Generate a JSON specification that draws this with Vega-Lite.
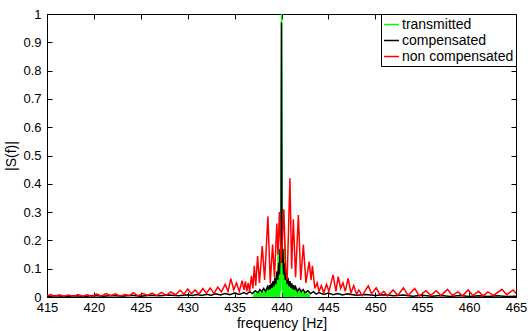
{
"$schema": "https://vega.github.io/schema/vega-lite/v6.json",
"width": 469, "height": 283,
"autosize": {"type": "none"},
"padding": {"left": 47, "top": 14, "right": 12, "bottom": 34},
"background": "white",
"config": {
 "view": {"stroke": "black", "strokeWidth": 1},
 "font": "Liberation Sans",
 "axis": {"domainColor": "black", "tickColor": "black", "labelColor": "black", "titleColor": "black", "labelFont": "Liberation Sans", "titleFont": "Liberation Sans", "labelFontSize": 13, "titleFontSize": 14, "titleFontWeight": "normal", "tickSize": -5, "grid": false, "zindex": 1, "domainWidth": 1, "tickWidth": 1, "labelFlush": false},
 "legend": {"orient": "top-right", "offset": 0, "fillColor": "white", "strokeColor": "black", "padding": 2, "rowPadding": 0, "labelFontSize": 14, "labelFont": "Liberation Sans", "labelColor": "black", "symbolType": "stroke", "symbolSize": 225, "symbolStrokeWidth": 1.5, "labelOffset": 2, "labelLimit": 300, "symbolOffset": 0}
},
"datasets": {
 "g": [
  {"f":437.0,"s":0},{"f":437.1,"s":0.01},{"f":437.2,"s":0},{"f":437.3,"s":0.012},{"f":437.4,"s":0},{"f":437.5,"s":0.014},{"f":437.6,"s":0},{"f":437.7,"s":0.016},{"f":437.8,"s":0},{"f":437.9,"s":0.018},
  {"f":438.0,"s":0},{"f":438.1,"s":0.02},{"f":438.2,"s":0},{"f":438.3,"s":0.022},{"f":438.4,"s":0},{"f":438.5,"s":0.026},{"f":438.6,"s":0},{"f":438.7,"s":0.03},{"f":438.8,"s":0},{"f":438.9,"s":0.035},
  {"f":439.0,"s":0},{"f":439.05,"s":0.04},{"f":439.1,"s":0},{"f":439.15,"s":0.045},{"f":439.2,"s":0},{"f":439.25,"s":0.05},{"f":439.3,"s":0},{"f":439.35,"s":0.06},{"f":439.4,"s":0},{"f":439.45,"s":0.07},
  {"f":439.5,"s":0},{"f":439.55,"s":0.09},{"f":439.6,"s":0},{"f":439.65,"s":0.2},{"f":439.7,"s":0},{"f":439.75,"s":0.12},{"f":439.8,"s":0},{"f":439.85,"s":0.17},{"f":439.9,"s":0.02},{"f":439.95,"s":0.25},
  {"f":440.0,"s":1.0},
  {"f":440.05,"s":0.25},{"f":440.1,"s":0.02},{"f":440.15,"s":0.17},{"f":440.2,"s":0},{"f":440.25,"s":0.12},{"f":440.3,"s":0},{"f":440.35,"s":0.2},{"f":440.4,"s":0},{"f":440.45,"s":0.09},{"f":440.5,"s":0},
  {"f":440.55,"s":0.07},{"f":440.6,"s":0},{"f":440.65,"s":0.06},{"f":440.7,"s":0},{"f":440.75,"s":0.05},{"f":440.8,"s":0},{"f":440.85,"s":0.045},{"f":440.9,"s":0},{"f":440.95,"s":0.04},{"f":441.0,"s":0},
  {"f":441.1,"s":0.035},{"f":441.2,"s":0},{"f":441.3,"s":0.03},{"f":441.4,"s":0},{"f":441.5,"s":0.026},{"f":441.6,"s":0},{"f":441.7,"s":0.022},{"f":441.8,"s":0},{"f":441.9,"s":0.02},{"f":442.0,"s":0},
  {"f":442.1,"s":0.018},{"f":442.2,"s":0},{"f":442.3,"s":0.016},{"f":442.4,"s":0},{"f":442.5,"s":0.014},{"f":442.6,"s":0},{"f":442.7,"s":0.012},{"f":442.8,"s":0},{"f":442.9,"s":0.01},{"f":443.0,"s":0}
 ],
 "k": [
  {"f":415,"s":0.002},{"f":416,"s":0.004},{"f":417,"s":0.002},{"f":418,"s":0.004},{"f":419,"s":0.002},{"f":420,"s":0.005},{"f":421,"s":0.003},{"f":422,"s":0.005},{"f":423,"s":0.003},{"f":424,"s":0.006},
  {"f":425,"s":0.003},{"f":426,"s":0.006},{"f":427,"s":0.004},{"f":428,"s":0.007},{"f":429,"s":0.004},{"f":430,"s":0.008},{"f":430.5,"s":0.005},{"f":431,"s":0.009},{"f":431.5,"s":0.005},{"f":432,"s":0.01},
  {"f":432.5,"s":0.006},{"f":433,"s":0.011},{"f":433.5,"s":0.007},{"f":434,"s":0.012},{"f":434.5,"s":0.008},{"f":435,"s":0.014},{"f":435.5,"s":0.009},{"f":436,"s":0.016},{"f":436.3,"s":0.01},{"f":436.6,"s":0.019},
  {"f":436.9,"s":0.012},{"f":437.2,"s":0.022},{"f":437.5,"s":0.015},{"f":437.7,"s":0.026},{"f":437.9,"s":0.018},{"f":438.1,"s":0.03},{"f":438.3,"s":0.02},{"f":438.5,"s":0.036},{"f":438.6,"s":0.025},{"f":438.7,"s":0.042},
  {"f":438.8,"s":0.028},{"f":438.9,"s":0.048},{"f":439.0,"s":0.032},{"f":439.1,"s":0.056},{"f":439.2,"s":0.038},{"f":439.3,"s":0.068},{"f":439.4,"s":0.045},{"f":439.5,"s":0.09},{"f":439.6,"s":0.06},{"f":439.7,"s":0.12},
  {"f":439.78,"s":0.08},{"f":439.85,"s":0.17},{"f":439.91,"s":0.12},{"f":439.95,"s":0.2},{"f":440.0,"s":0.97},{"f":440.05,"s":0.2},{"f":440.09,"s":0.12},{"f":440.15,"s":0.17},{"f":440.22,"s":0.08},{"f":440.3,"s":0.12},
  {"f":440.4,"s":0.06},{"f":440.5,"s":0.09},{"f":440.6,"s":0.045},{"f":440.7,"s":0.068},{"f":440.8,"s":0.038},{"f":440.9,"s":0.056},{"f":441.0,"s":0.032},{"f":441.1,"s":0.048},{"f":441.2,"s":0.028},{"f":441.3,"s":0.042},
  {"f":441.4,"s":0.025},{"f":441.5,"s":0.036},{"f":441.7,"s":0.02},{"f":441.9,"s":0.03},{"f":442.1,"s":0.018},{"f":442.3,"s":0.026},{"f":442.5,"s":0.015},{"f":442.8,"s":0.022},{"f":443.1,"s":0.012},{"f":443.4,"s":0.019},
  {"f":443.7,"s":0.01},{"f":444,"s":0.016},{"f":444.5,"s":0.009},{"f":445,"s":0.014},{"f":445.5,"s":0.008},{"f":446,"s":0.012},{"f":446.5,"s":0.007},{"f":447,"s":0.011},{"f":448,"s":0.006},{"f":449,"s":0.009},
  {"f":450,"s":0.005},{"f":451,"s":0.008},{"f":452,"s":0.004},{"f":453,"s":0.007},{"f":454,"s":0.003},{"f":455,"s":0.006},{"f":456,"s":0.003},{"f":457,"s":0.005},{"f":458,"s":0.002},{"f":459,"s":0.005},
  {"f":460,"s":0.002},{"f":461,"s":0.004},{"f":462,"s":0.002},{"f":463,"s":0.004},{"f":464,"s":0.002},{"f":465,"s":0.003}
 ],
 "r": [
  {"f":415,"s":0.004},{"f":415.4,"s":0.009},{"f":415.8,"s":0.002},{"f":416.3,"s":0.008},{"f":416.8,"s":0.003},{"f":417.3,"s":0.007},{"f":417.8,"s":0.002},{"f":418.3,"s":0.009},{"f":418.8,"s":0.003},{"f":419.3,"s":0.008},
  {"f":419.8,"s":0.002},{"f":420.3,"s":0.01},{"f":420.8,"s":0.004},{"f":421.3,"s":0.012},{"f":421.8,"s":0.005},{"f":422.3,"s":0.011},{"f":422.8,"s":0.003},{"f":423.3,"s":0.009},{"f":423.8,"s":0.005},{"f":424.2,"s":0.015},
  {"f":424.7,"s":0.004},{"f":425.2,"s":0.012},{"f":425.7,"s":0.006},{"f":426.2,"s":0.014},{"f":426.7,"s":0.005},{"f":427.2,"s":0.016},{"f":427.7,"s":0.006},{"f":428.2,"s":0.018},{"f":428.7,"s":0.008},{"f":429.2,"s":0.024},
  {"f":429.6,"s":0.01},{"f":430.0,"s":0.028},{"f":430.4,"s":0.012},{"f":430.8,"s":0.025},{"f":431.2,"s":0.01},{"f":431.6,"s":0.03},{"f":432.0,"s":0.014},{"f":432.4,"s":0.032},{"f":432.8,"s":0.012},{"f":433.2,"s":0.035},
  {"f":433.6,"s":0.018},{"f":434.0,"s":0.045},{"f":434.3,"s":0.02},{"f":434.6,"s":0.065},{"f":434.9,"s":0.025},{"f":435.2,"s":0.05},{"f":435.5,"s":0.02},{"f":435.8,"s":0.058},{"f":436.0,"s":0.025},{"f":436.15,"s":0.055},
  {"f":436.3,"s":0.02},{"f":436.45,"s":0.05},{"f":436.6,"s":0.02},{"f":436.8,"s":0.075},{"f":436.95,"s":0.03},{"f":437.1,"s":0.11},{"f":437.25,"s":0.04},{"f":437.45,"s":0.145},{"f":437.65,"s":0.05},{"f":437.95,"s":0.18},
  {"f":438.2,"s":0.06},{"f":438.55,"s":0.285},{"f":438.8,"s":0.05},{"f":439.05,"s":0.185},{"f":439.25,"s":0.07},{"f":439.5,"s":0.26},{"f":439.62,"s":0.15},{"f":439.78,"s":0.3},{"f":439.95,"s":0.12},{"f":440.1,"s":0.2},
  {"f":440.25,"s":0.31},{"f":440.45,"s":0.1},{"f":440.6,"s":0.06},{"f":440.9,"s":0.42},{"f":441.08,"s":0.1},{"f":441.26,"s":0.275},{"f":441.5,"s":0.07},{"f":441.8,"s":0.29},{"f":442.05,"s":0.06},{"f":442.33,"s":0.185},
  {"f":442.6,"s":0.05},{"f":442.95,"s":0.125},{"f":443.15,"s":0.06},{"f":443.3,"s":0.11},{"f":443.55,"s":0.03},{"f":443.8,"s":0.05},{"f":444.0,"s":0.02},{"f":444.25,"s":0.04},{"f":444.5,"s":0.015},{"f":444.8,"s":0.045},
  {"f":445.05,"s":0.02},{"f":445.5,"s":0.078},{"f":445.8,"s":0.02},{"f":446.05,"s":0.072},{"f":446.3,"s":0.03},{"f":446.55,"s":0.05},{"f":446.8,"s":0.02},{"f":447.1,"s":0.066},{"f":447.4,"s":0.015},{"f":447.7,"s":0.04},
  {"f":448.0,"s":0.01},{"f":448.25,"s":0.025},{"f":448.6,"s":0.005},{"f":449.25,"s":0.039},{"f":449.6,"s":0.012},{"f":450.1,"s":0.032},{"f":450.5,"s":0.008},{"f":450.9,"s":0.02},{"f":451.3,"s":0.004},{"f":451.9,"s":0.025},
  {"f":452.4,"s":0.006},{"f":453.0,"s":0.032},{"f":453.5,"s":0.005},{"f":454.2,"s":0.03},{"f":454.7,"s":0.004},{"f":455.4,"s":0.022},{"f":455.9,"s":0.006},{"f":456.5,"s":0.022},{"f":457.0,"s":0.005},{"f":457.7,"s":0.027},
  {"f":458.2,"s":0.006},{"f":458.8,"s":0.018},{"f":459.3,"s":0.004},{"f":459.9,"s":0.025},{"f":460.4,"s":0.005},{"f":461.0,"s":0.02},{"f":461.5,"s":0.004},{"f":462.0,"s":0.018},{"f":462.6,"s":0.006},{"f":463.5,"s":0.027},
  {"f":464.0,"s":0.008},{"f":464.7,"s":0.025},{"f":465.0,"s":0.012}
 ]
},
"layer": [
 {
  "data": {"name": "g"},
  "mark": {"type": "line", "strokeWidth": 1.5, "clip": true},
  "encoding": {
   "x": {"field": "f", "type": "quantitative", "scale": {"domain": [415, 465], "nice": false, "zero": false},
         "axis": {"orient": "bottom", "values": [415,420,425,430,435,440,445,450,455,460,465], "format": "d", "title": "frequency [Hz]", "labelPadding": 9, "titlePadding": 2}},
   "y": {"field": "s", "type": "quantitative", "scale": {"domain": [0, 1], "nice": false, "zero": true},
         "axis": {"orient": "left", "values": [0,0.1,0.2,0.3,0.4,0.5,0.6,0.7,0.8,0.9,1], "format": "~g", "title": "|S(f)|", "labelPadding": 11, "titlePadding": 4}},
   "color": {"datum": "transmitted", "type": "nominal",
             "scale": {"domain": ["transmitted", "compensated", "non compensated"], "range": ["#00ff00", "#000000", "#ff0000"]},
             "legend": {"title": null}}
  }
 },
 {
  "data": {"name": "k"},
  "mark": {"type": "line", "strokeWidth": 1.5, "clip": true},
  "encoding": {
   "x": {"field": "f", "type": "quantitative", "axis": {"orient": "top", "values": [415,420,425,430,435,440,445,450,455,460,465], "labels": false, "title": null}},
   "y": {"field": "s", "type": "quantitative", "axis": {"orient": "right", "values": [0,0.1,0.2,0.3,0.4,0.5,0.6,0.7,0.8,0.9,1], "labels": false, "title": null}},
   "color": {"datum": "compensated", "type": "nominal"}
  }
 },
 {
  "data": {"name": "r"},
  "mark": {"type": "line", "strokeWidth": 1.5, "clip": true},
  "encoding": {
   "x": {"field": "f", "type": "quantitative", "axis": null},
   "y": {"field": "s", "type": "quantitative", "axis": null},
   "color": {"datum": "non compensated", "type": "nominal"}
  }
 }
],
"resolve": {"axis": {"x": "independent", "y": "independent"}}
}
